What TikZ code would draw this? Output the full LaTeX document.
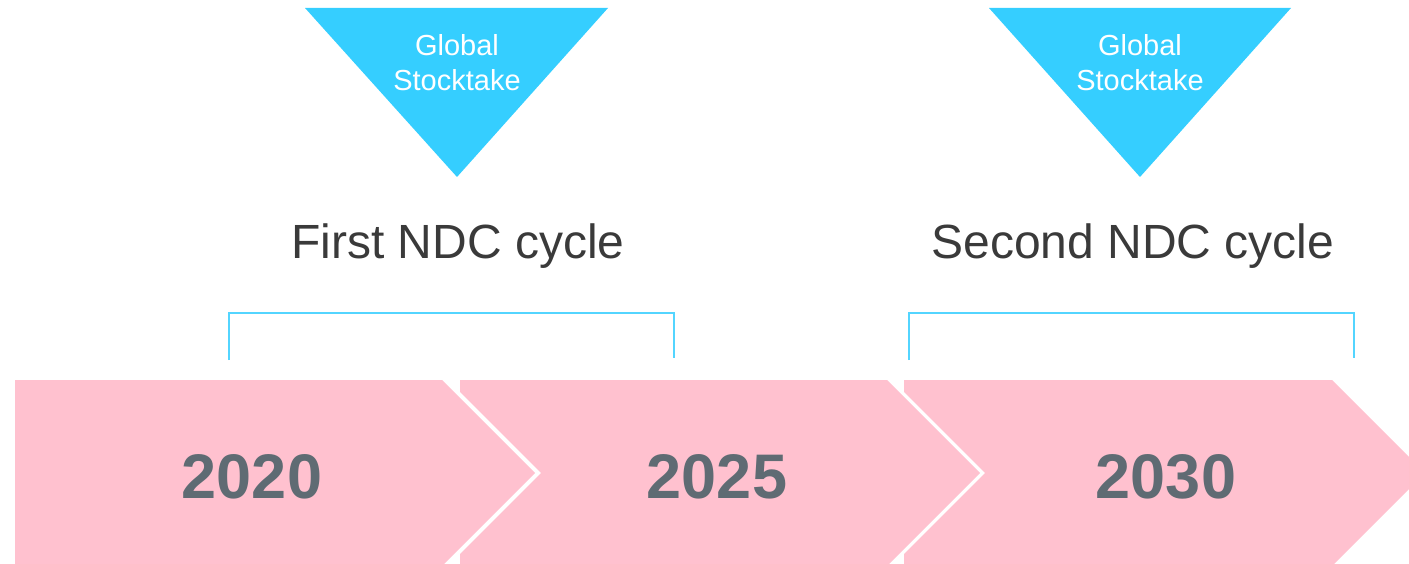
\documentclass[tikz,border=0pt]{standalone}
\usepackage{fontspec}
\setmainfont{Liberation Sans}
\definecolor{chevpink}{HTML}{FFC1CF}
\definecolor{yeargrey}{HTML}{5F6B73}
\definecolor{stockcyan}{HTML}{35CEFF}
\definecolor{labelgrey}{HTML}{3A3A3A}
\tikzset{
  chevron/.style={fill=chevpink, draw=none},
  yearlabel/.style={text=yeargrey, font=\fontsize{63}{70}\selectfont\bfseries, inner sep=0pt, anchor=base},
  stocktri/.style={fill=stockcyan, draw=none},
  stocklabel/.style={text=white, font=\fontsize{29}{35}\selectfont, align=center, inner sep=0pt},
  cyclelabel/.style={text=labelgrey, font=\fontsize{48}{54}\selectfont, inner sep=0pt, anchor=base},
  bracket/.style={draw=stockcyan!85, line width=2pt}
}
\begin{document}
\begin{tikzpicture}[x=1pt,y=-1pt]
\useasboundingbox (0,0) rectangle (1409,564);
\begin{scope}
\clip (0,0) rectangle (1409,564);
% timeline chevrons
\path[chevron] (15,380) -- (442,380) -- (535,473) -- (442,566) -- (15,566) -- cycle;
\path[chevron] (460,380) -- (887,380) -- (980,473) -- (887,566) -- (460,566)
  -- (460,554) -- (541,473) -- (460,392) -- cycle;
\path[chevron] (904,380) -- (1332,380) -- (1425,473) -- (1332,566) -- (904,566)
  -- (904,554) -- (985,473) -- (904,392) -- cycle;
\end{scope}
\node[yearlabel] (y2020) at (252,498) {2020};
\node[yearlabel] (y2025) at (717,498) {2025};
\node[yearlabel] (y2030) at (1166,498) {2030};

% global stocktake markers
\path[stocktri] (305,8) -- (608,8) -- (457,177) -- cycle;
\path[stocktri] (989,8) -- (1291,8) -- (1140,177) -- cycle;
\node[stocklabel] (gst1) at (457,63) {Global\\Stocktake};
\node[stocklabel] (gst2) at (1140,63) {Global\\Stocktake};

% NDC cycle labels and brackets
\node[cyclelabel] (cyc1) at (458,259) {First NDC cycle};
\node[cyclelabel] (cyc2) at (1133,259) {Second NDC cycle};
\draw[bracket] (229,360) -- (229,313) -- (674,313) -- (674,358);
\draw[bracket] (909,360) -- (909,313) -- (1354,313) -- (1354,358);
\end{tikzpicture}
\end{document}
